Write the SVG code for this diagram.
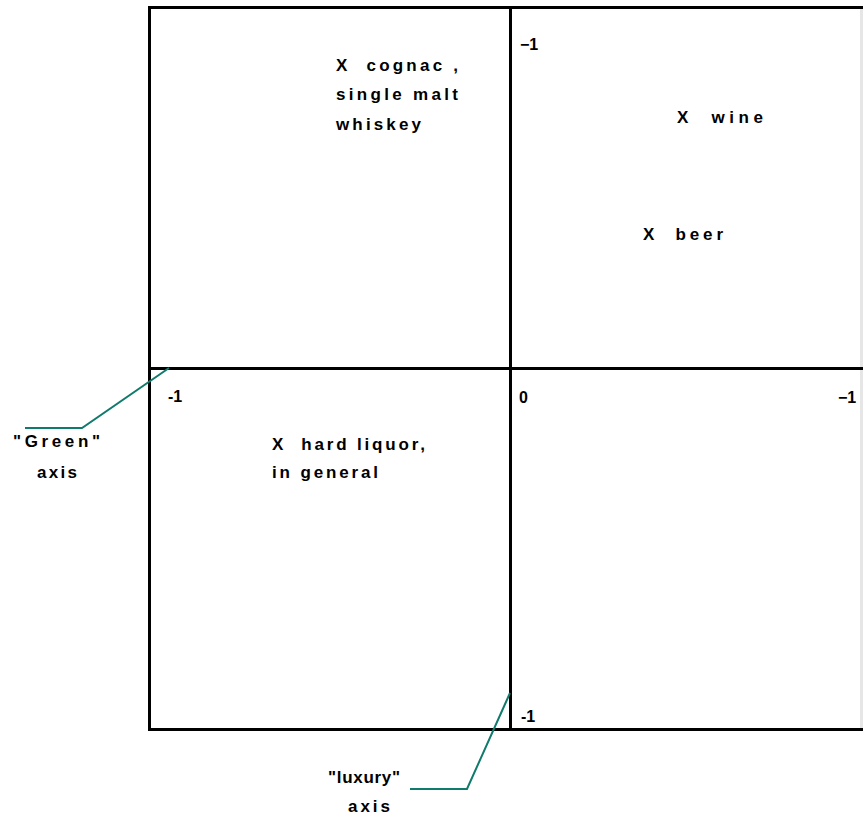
<svg xmlns="http://www.w3.org/2000/svg" width="863" height="816" viewBox="0 0 863 816">
<style>
  .ax { stroke: #000; stroke-width: 3; fill: none; }
  .lead { stroke: #107a6c; stroke-width: 2; fill: none; }
  text { font-family: "Liberation Sans", Arial, sans-serif; font-size: 17px; font-weight: bold; fill: #000; white-space: pre; }
  .tk { font-size: 16px; }
</style>
<rect width="863" height="816" fill="#fff"/>
<g id="frame">
  <line x1="861.5" y1="9" x2="861.5" y2="728" stroke="#e6e6e6" stroke-width="3"/>
  <path class="ax" d="M863 7.5 H149.5 V729.5 H863"/>
  <line class="ax" x1="510.5" y1="7" x2="510.5" y2="730"/>
  <line class="ax" x1="149" y1="368.5" x2="863" y2="368.5"/>
</g>
<g id="tick-labels">
  <text class="tk" x="520" y="50">−1</text>
  <text class="tk" x="168" y="402">-1</text>
  <text class="tk" x="519" y="403">0</text>
  <text class="tk" x="838" y="403">−1</text>
  <text class="tk" x="521" y="722">-1</text>
</g>
<g id="cognac">
  <text x="336" y="71" textLength="122" lengthAdjust="spacing">X  cognac ,</text>
  <text x="336" y="100" textLength="122" lengthAdjust="spacing">single malt</text>
  <text x="336" y="130" textLength="85" lengthAdjust="spacing">whiskey</text>
</g>
<g id="wine">
  <text x="677" y="123" textLength="86" lengthAdjust="spacing">X  wine</text>
</g>
<g id="beer">
  <text x="643" y="240" textLength="80" lengthAdjust="spacing">X  beer</text>
</g>
<g id="hard-liquor">
  <text x="272" y="450" textLength="153" lengthAdjust="spacing">X  hard liquor,</text>
  <text x="272" y="478" textLength="106" lengthAdjust="spacing">in general</text>
</g>
<g id="green-axis-label">
  <text x="13" y="447" textLength="87" lengthAdjust="spacing">"Green"</text>
  <text x="37" y="478" textLength="40" lengthAdjust="spacing">axis</text>
</g>
<g id="luxury-axis-label">
  <text x="328" y="783" textLength="72" lengthAdjust="spacing">"luxury"</text>
  <text x="348" y="812" textLength="42" lengthAdjust="spacing">axis</text>
</g>
<g id="connectors">
  <polyline class="lead" points="25,428 82,428 169,368"/>
  <polyline class="lead" points="410,789 467,789 510,693"/>
</g>
</svg>
